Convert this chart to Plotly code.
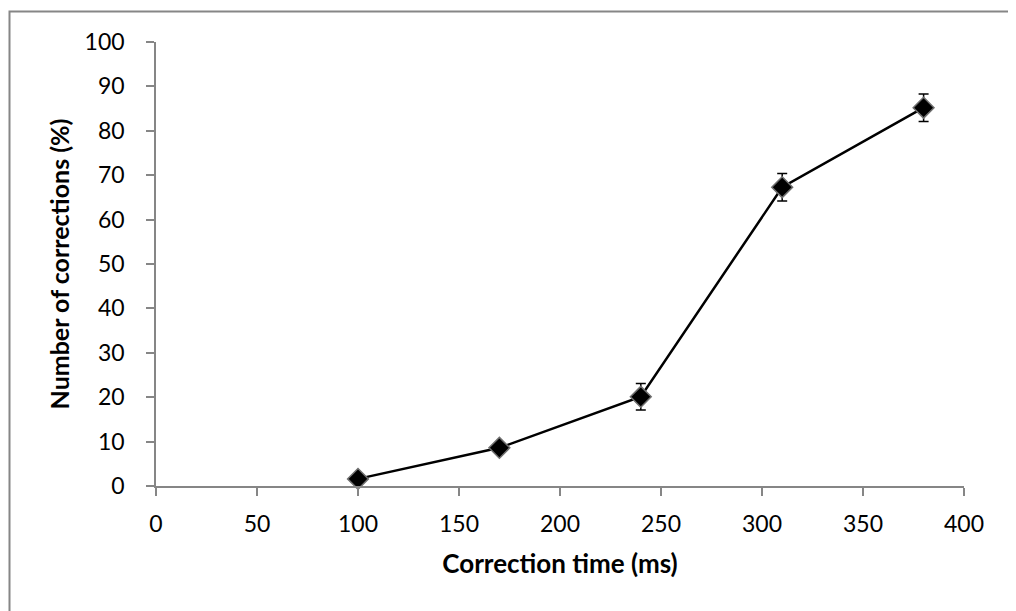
import plotly.graph_objects as go

correction_time = [100, 170, 240, 310, 380]
corrections_pct = [1.6, 8.6, 20.1, 67.3, 85.2]
error_pct = [0.6, 0.9, 3.0, 3.1, 3.1]

x_ticks = [0, 50, 100, 150, 200, 250, 300, 350, 400]
y_ticks = [0, 10, 20, 30, 40, 50, 60, 70, 80, 90, 100]

# page body has an 8px margin; figure coords = screen coords - 8
W, H = 1008, 603
L, R, T, B = 148, 52, 34, 125
pw, ph = W - L - R, H - T - B

FONT = "Lato, Open Sans, sans-serif"

fig = go.Figure()
fig.add_trace(go.Scatter(
    x=correction_time, y=corrections_pct,
    mode="lines+markers",
    line=dict(color="black", width=2.5),
    marker=dict(symbol="diamond", size=16, color="black",
                line=dict(color="#6f6f6f", width=1.5)),
    error_y=dict(type="data", array=error_pct, visible=True,
                 color="black", thickness=1.5, width=5),
    cliponaxis=False,
    showlegend=False,
))

axis_common = dict(
    showgrid=False, zeroline=False, showline=True,
    linecolor="#868686", linewidth=1.5,
    ticks="outside", ticklen=8, tickcolor="#868686", tickwidth=1.5,
    tickfont=dict(family=FONT, size=23, color="black"),
)

fig.update_xaxes(range=[0, 400], tickvals=x_ticks, ticktext=[str(v) for v in x_ticks],
                 ticklabelstandoff=9,
                 title=dict(text="<b>Correction time (ms)</b>", standoff=18,
                            font=dict(family=FONT, size=26, color="black")),
                 **axis_common)
fig.update_yaxes(range=[0, 100], tickvals=y_ticks, ticktext=[str(v) for v in y_ticks],
                 ticklabelstandoff=17,
                 title=dict(text="<b>Number of corrections (%)</b>", standoff=8,
                            font=dict(family=FONT, size=25, color="black")),
                 **axis_common)

fig.add_shape(type="rect", xref="paper", yref="paper",
              x0=(1.5 - L) / pw, x1=(W + 30 - L) / pw,
              y0=(T + ph - (H + 30)) / ph, y1=(T + ph - 3.5) / ph,
              line=dict(color="#868686", width=2), fillcolor="rgba(0,0,0,0)", layer="below")

fig.update_layout(
    width=W, height=H,
    margin=dict(l=L, r=R, t=T, b=B, autoexpand=False),
    plot_bgcolor="white", paper_bgcolor="white",
)

fig.write_html("out.html")
